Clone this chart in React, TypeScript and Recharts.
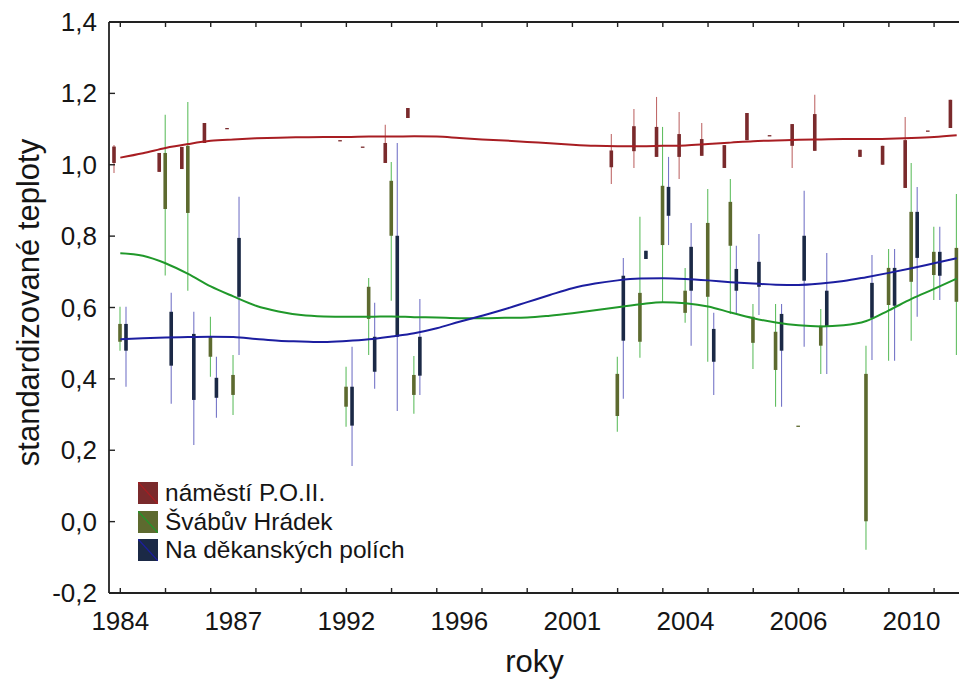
import React from 'react';
import { ComposedChart, Bar, Line, XAxis, YAxis, Legend } from 'recharts';

// one box = [group, min, q1, q3, max]
type Box = [number, number, number, number, number];

const groups = [
  0, 1, 2, 3, 4, 5, 6, 7, 8, 9, 10, 11, 12, 13, 14, 15, 16, 17, 18,
  19, 20, 21, 22, 23, 24, 25, 26, 27, 28, 29, 30, 31, 32, 33, 34, 35, 36, 37,
];
const minorTickGroups = [0, 2, 4, 6, 8, 10, 12, 14, 16, 18, 20, 22, 24, 26, 28, 30, 32, 34, 36];
const yearTickGroups = [0, 5, 10, 15, 20, 25, 30, 35];
const yearLabels = ['1984', '1987', '1992', '1996', '2001', '2004', '2006', '2010'];
const yTicks = [-0.2, 0, 0.2, 0.4, 0.6, 0.8, 1.0, 1.2, 1.4];

const seriesNames = ['náměstí P.O.II.', 'Švábův Hrádek', 'Na děkanských polích'];

const redBoxes: Box[] = [
  [0, 0.977, 1.005, 1.051, 1.055],
  [2, 0.98, 0.98, 1.033, 1.033],
  [3, 0.988, 0.988, 1.05, 1.05],
  [4, 1.061, 1.061, 1.117, 1.117],
  [5, 1.103, 1.103, 1.103, 1.103],
  [10, 1.069, 1.069, 1.069, 1.069],
  [11, 1.051, 1.051, 1.051, 1.051],
  [12, 1.005, 1.005, 1.061, 1.112],
  [13, 1.131, 1.131, 1.159, 1.159],
  [22, 0.946, 0.993, 1.04, 1.086],
  [23, 0.991, 1.038, 1.108, 1.156],
  [24, 1.022, 1.022, 1.106, 1.19],
  [25, 0.96, 1.022, 1.086, 1.148],
  [26, 1.025, 1.025, 1.072, 1.117],
  [27, 0.991, 0.991, 1.055, 1.055],
  [28, 1.069, 1.069, 1.145, 1.145],
  [29, 1.083, 1.083, 1.083, 1.083],
  [30, 0.991, 1.053, 1.114, 1.114],
  [31, 1.039, 1.039, 1.142, 1.196],
  [33, 1.022, 1.022, 1.042, 1.042],
  [34, 1.0, 1.0, 1.053, 1.053],
  [35, 0.935, 0.935, 1.069, 1.134],
  [36, 1.096, 1.096, 1.096, 1.096],
  [37, 1.103, 1.103, 1.182, 1.182],
];

const greenBoxes: Box[] = [
  [0, 0.479, 0.504, 0.554, 0.602],
  [2, 0.69, 0.876, 1.033, 1.14],
  [3, 0.647, 0.865, 1.053, 1.176],
  [4, 0.406, 0.462, 0.518, 0.574],
  [5, 0.299, 0.355, 0.411, 0.467],
  [10, 0.266, 0.322, 0.378, 0.434],
  [11, 0.467, 0.568, 0.658, 0.683],
  [12, 0.619, 0.801, 0.955, 1.008],
  [13, 0.302, 0.355, 0.411, 0.464],
  [22, 0.252, 0.296, 0.414, 0.462],
  [23, 0.459, 0.504, 0.641, 0.854],
  [24, 0.613, 0.775, 0.941, 1.106],
  [25, 0.557, 0.585, 0.647, 0.711],
  [26, 0.448, 0.63, 0.837, 0.932],
  [27, 0.582, 0.773, 0.896, 0.96],
  [28, 0.428, 0.501, 0.574, 0.61],
  [29, 0.322, 0.425, 0.532, 0.61],
  [30, 0.269, 0.269, 0.269, 0.269],
  [31, 0.414, 0.493, 0.549, 0.596],
  [33, -0.079, 0.001, 0.414, 0.493],
  [34, 0.451, 0.607, 0.711, 0.764],
  [35, 0.507, 0.672, 0.868, 1.005],
  [36, 0.621, 0.691, 0.756, 0.826],
  [37, 0.467, 0.616, 0.767, 0.918],
];

const blueBoxes: Box[] = [
  [0, 0.378, 0.479, 0.554, 0.602],
  [2, 0.33, 0.437, 0.588, 0.641],
  [3, 0.215, 0.341, 0.526, 0.588],
  [4, 0.291, 0.347, 0.403, 0.462],
  [5, 0.467, 0.63, 0.795, 0.91],
  [10, 0.156, 0.269, 0.378, 0.49],
  [11, 0.372, 0.42, 0.518, 0.613],
  [12, 0.31, 0.518, 0.801, 1.061],
  [13, 0.355, 0.409, 0.518, 0.624],
  [22, 0.344, 0.507, 0.689, 0.739],
  [23, 0.736, 0.736, 0.759, 0.759],
  [24, 0.775, 0.857, 0.938, 1.022],
  [25, 0.493, 0.647, 0.77, 0.837],
  [26, 0.355, 0.448, 0.54, 0.585],
  [27, 0.582, 0.647, 0.708, 0.773],
  [28, 0.579, 0.658, 0.728, 0.806],
  [29, 0.322, 0.479, 0.582, 0.61],
  [30, 0.49, 0.675, 0.801, 0.927],
  [31, 0.414, 0.546, 0.647, 0.753],
  [33, 0.453, 0.571, 0.669, 0.747],
  [34, 0.451, 0.605, 0.711, 0.764],
  [35, 0.574, 0.739, 0.868, 0.938],
  [36, 0.621, 0.689, 0.756, 0.826],
];

// smoothed trend per site, one value per group
const redFit = [
  1.02, 1.032, 1.047, 1.058, 1.067, 1.071, 1.074, 1.076, 1.077, 1.078,
  1.078, 1.079, 1.079, 1.08, 1.079, 1.075, 1.071, 1.068, 1.064, 1.06,
  1.056, 1.053, 1.052, 1.052, 1.053, 1.054, 1.058, 1.062, 1.066, 1.068,
  1.07, 1.071, 1.072, 1.072, 1.073, 1.075, 1.078, 1.083,
];
const greenFit = [
  0.752, 0.745, 0.724, 0.694, 0.659, 0.631, 0.605, 0.589, 0.579, 0.575,
  0.574, 0.574, 0.575, 0.573, 0.572, 0.57, 0.57, 0.571, 0.572, 0.577,
  0.584, 0.592, 0.601, 0.609, 0.615, 0.612, 0.603, 0.586, 0.57, 0.558,
  0.55, 0.547, 0.55, 0.562, 0.592, 0.624, 0.652, 0.681,
];
const blueFit = [
  0.511, 0.514, 0.516, 0.517, 0.518, 0.517, 0.512, 0.507, 0.505, 0.503,
  0.506, 0.511, 0.519, 0.528, 0.542, 0.56, 0.577, 0.595, 0.615, 0.635,
  0.654, 0.667, 0.676, 0.681, 0.682, 0.68, 0.676, 0.671, 0.667, 0.664,
  0.663, 0.667, 0.674, 0.685, 0.697, 0.71, 0.724, 0.738,
];

const font = '"Liberation Sans", Arial, sans-serif';
const ink = '#151515';
const axisColor = '#222';

const seriesStyle = [
  { key: 'red', box: '#7a2a2c', whisker: '#c06a6a', line: '#a81d22' },
  { key: 'green', box: '#5d6a2f', whisker: '#62bf62', line: '#20982a' },
  { key: 'blue', box: '#1b2946', whisker: '#7676c8', line: '#1c1ea0' },
];

const pick = (boxes: Box[], g: number) => boxes.find((b) => b[0] === g) ?? null;

const data = groups.map((g, k) => ({
  g,
  red: pick(redBoxes, g),
  green: pick(greenBoxes, g),
  blue: pick(blueBoxes, g),
  redFit: redFit[k],
  greenFit: greenFit[k],
  blueFit: blueFit[k],
}));

const bottomTicks = Array.from(new Set([...minorTickGroups, ...yearTickGroups])).sort((a, b) => a - b);

const fmt = (v: number) => v.toFixed(1).replace('.', ',');

// whisker + box drawn inside the range bar the library placed for [min, max]
const makeShape = (key: string, boxColor: string, whiskerColor: string) => (props: any) => {
  const b: Box | null = props.payload ? props.payload[key] : null;
  if (!b || props.y == null || isNaN(props.y)) return <g />;
  const [, min, q1, q3, max] = b;
  const h = props.height || 0;
  const top = Math.min(props.y, props.y + h);
  const bottom = Math.max(props.y, props.y + h);
  const span = max - min;
  const toPx = (v: number) => (span === 0 ? top : top + ((bottom - top) * (max - v)) / span);
  const cx = props.x + props.width / 2;
  const boxTop = toPx(q3);
  const boxH = Math.max(toPx(q1) - boxTop, 1.3);
  return (
    <g>
      {span > 0 && (
        <line x1={cx} x2={cx} y1={toPx(max)} y2={toPx(min)} stroke={whiskerColor} strokeWidth={1.1} />
      )}
      <rect x={cx - 1.8} y={boxTop} width={3.6} height={boxH} fill={boxColor} />
    </g>
  );
};

const BottomTick = (props: any) => {
  const { x, y, payload } = props;
  const v = payload.value;
  const li = yearTickGroups.indexOf(v);
  return (
    <g>
      {minorTickGroups.includes(v) && (
        <line x1={x} x2={x} y1={y} y2={y - 5} stroke={axisColor} strokeWidth={1.4} />
      )}
      {li >= 0 && (
        <text x={x} y={y + 37} textAnchor="middle" fontSize={26} fill={ink} fontFamily={font}>
          {yearLabels[li]}
        </text>
      )}
    </g>
  );
};

const TopTick = (props: any) => {
  const { x, y } = props;
  return <line x1={x} x2={x} y1={y} y2={y + 5} stroke={axisColor} strokeWidth={1.4} />;
};

const LeftTick = (props: any) => {
  const { x, y, payload } = props;
  return (
    <g>
      <line x1={x} x2={x + 6} y1={y} y2={y} stroke={axisColor} strokeWidth={1.4} />
      <text x={x - 12} y={y + 9} textAnchor="end" fontSize={26} fill={ink} fontFamily={font}>
        {fmt(payload.value)}
      </text>
    </g>
  );
};

const renderLegend = () => (
  <div style={{ fontFamily: font, fontSize: 24.5, color: ink }}>
    {seriesStyle.map((s, i) => (
      <div key={s.key} style={{ display: 'flex', alignItems: 'center', height: 28.5 }}>
        <svg width={20} height={22} style={{ marginRight: 7, display: 'block' }}>
          <rect width={20} height={22} fill={s.box} />
          <line x1={0} y1={0} x2={20} y2={22} stroke={s.line} strokeWidth={1.2} />
        </svg>
        <span style={{ whiteSpace: 'nowrap' }}>{seriesNames[i]}</span>
      </div>
    ))}
  </div>
);

const App: React.FC = () => {
  return (
    <div
      style={{
        position: 'absolute',
        left: 0,
        top: 0,
        width: 959,
        height: 680,
        overflow: 'hidden',
        background: '#fff',
      }}
    >
      <ComposedChart
        width={980}
        height={680}
        data={data}
        margin={{ top: 21, right: 12, bottom: 0, left: 0 }}
        barGap={0}
      >
        <XAxis
          xAxisId="top"
          orientation="top"
          type="number"
          dataKey="g"
          domain={[-0.5, 37.5]}
          allowDataOverflow
          ticks={minorTickGroups}
          interval={0}
          tickSize={0}
          tickMargin={0}
          tick={TopTick}
          height={1}
          axisLine={{ stroke: axisColor, strokeWidth: 1.8 }}
        />
        <XAxis
          xAxisId="bottom"
          type="number"
          dataKey="g"
          domain={[-0.5, 37.5]}
          allowDataOverflow
          ticks={bottomTicks}
          interval={0}
          tickSize={0}
          tickMargin={0}
          tick={BottomTick}
          height={87}
          axisLine={{ stroke: axisColor, strokeWidth: 1.8 }}
          label={(p: any) => (
            <text
              x={p.viewBox.x + p.viewBox.width / 2 - 4}
              y={p.viewBox.y + 79}
              textAnchor="middle"
              fontSize={31}
              fill={ink}
              fontFamily={font}
            >
              roky
            </text>
          )}
        />
        <YAxis
          type="number"
          domain={[-0.2, 1.4]}
          allowDataOverflow
          ticks={yTicks}
          interval={0}
          width={109}
          tickSize={0}
          tickMargin={0}
          tick={LeftTick}
          axisLine={{ stroke: axisColor, strokeWidth: 1.8 }}
          label={(p: any) => {
            const cy = p.viewBox.y + p.viewBox.height / 2 - 5;
            return (
              <text
                x={39}
                y={cy}
                transform={`rotate(-90, 39, ${cy})`}
                textAnchor="middle"
                fontSize={31}
                fill={ink}
                fontFamily={font}
              >
                standardizované teploty
              </text>
            );
          }}
        />
        {seriesStyle.map((s) => (
          <Bar
            key={s.key}
            xAxisId="bottom"
            dataKey={(d: any) => (d[s.key] ? [d[s.key][1], d[s.key][4]] : null)}
            barSize={6}
            shape={makeShape(s.key, s.box, s.whisker)}
            isAnimationActive={false}
          />
        ))}
        {seriesStyle.map((s) => (
          <Line
            key={s.key + 'Fit'}
            xAxisId="bottom"
            dataKey={s.key + 'Fit'}
            type="monotone"
            stroke={s.line}
            strokeWidth={2}
            dot={false}
            activeDot={false}
            isAnimationActive={false}
          />
        ))}
        <Legend
          layout="vertical"
          align="center"
          verticalAlign="middle"
          content={renderLegend}
          wrapperStyle={{ left: 138, top: 479, width: 'auto' }}
        />
      </ComposedChart>
    </div>
  );
};

export default App;
